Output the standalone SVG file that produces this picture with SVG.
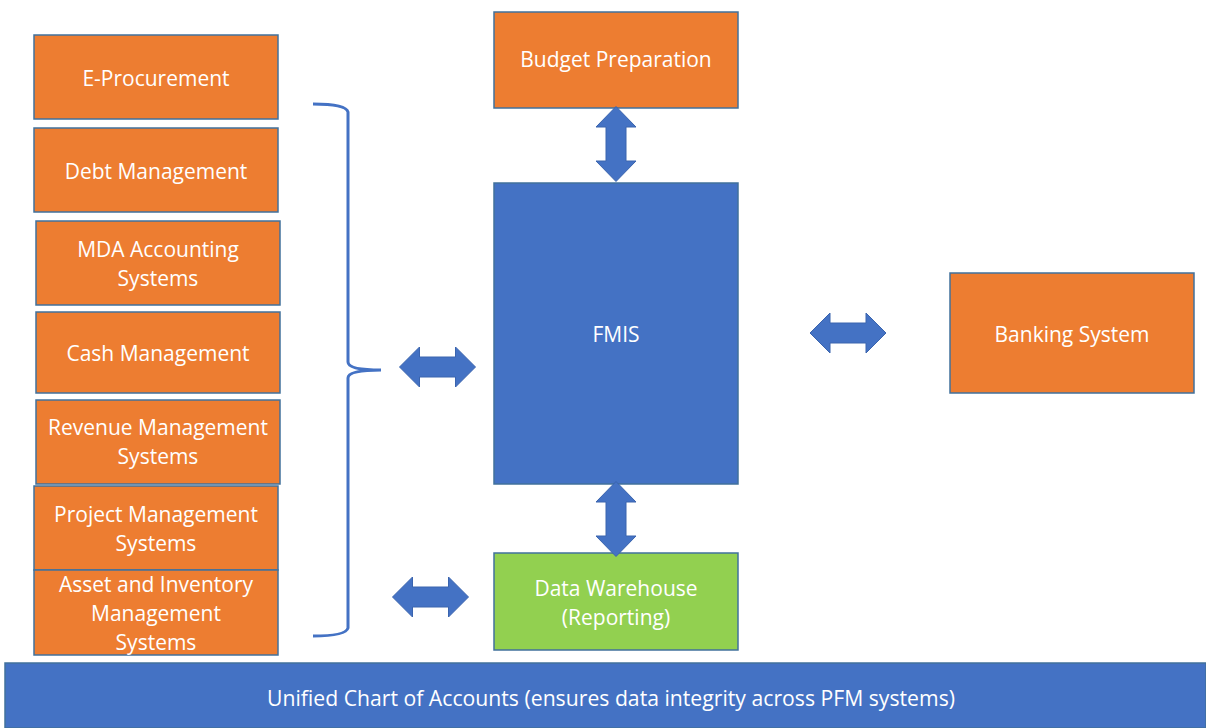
<svg xmlns="http://www.w3.org/2000/svg" width="1206" height="728" viewBox="0 0 1206 728">
  <style>
    .box { stroke: #41719C; stroke-width: 1.5; }
    .orange { fill: #ED7D31; }
    .blue { fill: #4472C4; }
    .green { fill: #92D050; }
    .label { font-family: "Open Sans", "Liberation Sans", sans-serif; font-size: 21px; fill: #FFFFFF; text-anchor: middle; }
    .arrow { fill: #4472C4; stroke: #3A64AE; stroke-width: 1; }
    .brace { fill: none; stroke: #4472C4; stroke-width: 3; }
  </style>
  <defs>
    <!-- double-headed block arrows, centred on the origin -->
    <path id="harrow" d="M-38,0 L-18,-20 L-18,-10 L18,-10 L18,-20 L38,0 L18,20 L18,10 L-18,10 L-18,20 Z"/>
    <path id="varrow" d="M0,-37.5 L20,-17 L10,-17 L10,17 L20,17 L0,37.5 L-20,17 L-10,17 L-10,-17 L-20,-17 Z"/>
  </defs>

  <rect width="1206" height="728" fill="#FFFFFF"/>

  <!-- source systems (left column) -->
  <g id="e-procurement">
    <rect class="box orange" x="34" y="35" width="244" height="84"/>
    <text class="label" x="156" y="86">E-Procurement</text>
  </g>
  <g id="debt-management">
    <rect class="box orange" x="34" y="128" width="244" height="84"/>
    <text class="label" x="156" y="179">Debt Management</text>
  </g>
  <g id="mda-accounting">
    <rect class="box orange" x="36" y="221" width="244" height="84"/>
    <text class="label" x="158" y="257">MDA Accounting</text>
    <text class="label" x="158" y="286">Systems</text>
  </g>
  <g id="cash-management">
    <rect class="box orange" x="36" y="312" width="244" height="81"/>
    <text class="label" x="158" y="361">Cash Management</text>
  </g>
  <g id="revenue-management">
    <rect class="box orange" x="36" y="400" width="244" height="84"/>
    <text class="label" x="158" y="435">Revenue Management</text>
    <text class="label" x="158" y="464">Systems</text>
  </g>
  <g id="project-management">
    <rect class="box orange" x="34" y="486" width="244" height="84"/>
    <text class="label" x="156" y="522">Project Management</text>
    <text class="label" x="156" y="551">Systems</text>
  </g>
  <g id="asset-inventory">
    <rect class="box orange" x="34" y="570" width="244" height="85"/>
    <text class="label" x="156" y="592">Asset and Inventory</text>
    <text class="label" x="156" y="621">Management</text>
    <text class="label" x="156" y="650">Systems</text>
  </g>

  <!-- central column -->
  <g id="budget-preparation">
    <rect class="box orange" x="494" y="12" width="244" height="96"/>
    <text class="label" x="616" y="67">Budget Preparation</text>
  </g>
  <g id="fmis">
    <rect class="box blue" x="494" y="183" width="244" height="301"/>
    <text class="label" x="616" y="342">FMIS</text>
  </g>
  <g id="data-warehouse">
    <rect class="box green" x="494" y="553" width="244" height="97"/>
    <text class="label" x="616" y="596">Data Warehouse</text>
    <text class="label" x="616" y="625">(Reporting)</text>
  </g>

  <!-- right side -->
  <g id="banking-system">
    <rect class="box orange" x="950" y="273" width="244" height="120"/>
    <text class="label" x="1072" y="342">Banking System</text>
  </g>

  <!-- foundation bar -->
  <g id="unified-coa">
    <rect class="blue" x="5" y="663" width="1201" height="65" stroke="#41719C" stroke-width="1.5"/>
    <text class="label" x="611" y="706" textLength="688" lengthAdjust="spacingAndGlyphs">Unified Chart of Accounts (ensures data integrity across PFM systems)</text>
  </g>

  <!-- connectors -->
  <g id="connectors">
    <path class="brace" d="M313,104 Q346,104 348,112 L348,362 Q348,370 381,370 Q348,370 348,378 L348,628 Q346,636 313,636"/>
    <use href="#harrow" class="arrow" x="437.5" y="367"/>
    <use href="#harrow" class="arrow" x="430.5" y="597"/>
    <use href="#harrow" class="arrow" x="848" y="333"/>
    <use href="#varrow" class="arrow" x="616" y="144"/>
    <use href="#varrow" class="arrow" x="616" y="519"/>
  </g>
</svg>
